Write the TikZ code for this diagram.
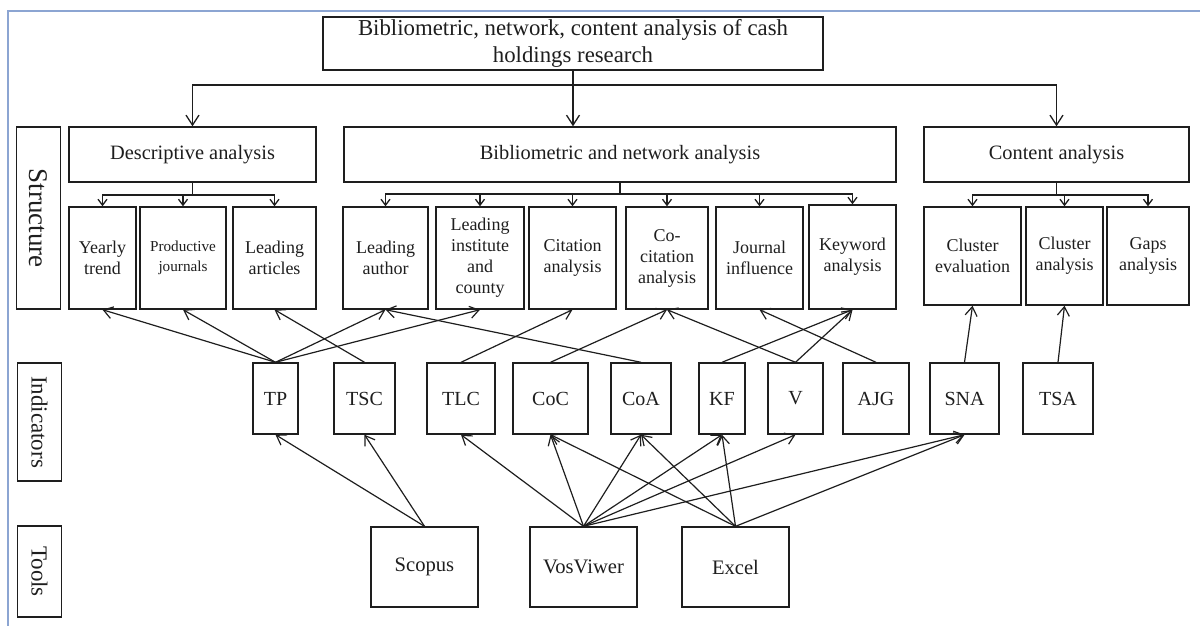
\documentclass[tikz,border=0pt]{standalone}
\usepackage{fontspec}
\setmainfont{Liberation Serif}
\usetikzlibrary{arrows.meta}
\definecolor{framecol}{RGB}{140,165,210}
\definecolor{ink}{RGB}{30,30,30}
\begin{document}
\begin{tikzpicture}[x=0.5pt,y=-0.5pt,
  box/.style={draw=ink, line width=0.7pt, inner sep=0pt, align=center, text=ink},
  rowtwo/.style={box, minimum height=27.5pt, font=\fontsize{10.2}{12}\selectfont},
  rowthree/.style={box, minimum height=51pt, font=\fontsize{9}{10.5}\selectfont},
  ind/.style={box, minimum height=35.5pt, font=\fontsize{10}{12}\selectfont},
  tool/.style={box, minimum height=40pt, minimum width=53.5pt, font=\fontsize{10.3}{12}\selectfont},
  lab/.style={box, rotate=-90, minimum height=22pt, font=\fontsize{11.5}{13}\selectfont},
  bigarr/.style={draw=ink, line width=0.65pt, -{Straight Barb[length=5pt,width=6.5pt]}},
  smallarr/.style={draw=ink, line width=0.65pt, -{Straight Barb[length=3pt,width=4.5pt]}},
  conn/.style={draw=ink, line width=0.6pt, -{Straight Barb[length=4.5pt,width=6pt]}},
  plain/.style={draw=ink, line width=0.65pt}
]
\useasboundingbox (0,0) rectangle (1200,626);
\draw[framecol, line width=1pt] (8,626) -- (8,11) -- (1200,11);

% title
\node[box, minimum width=250pt, minimum height=26.5pt, font=\fontsize{11.4}{13.5}\selectfont] (title) at (573,43.5)
  {Bibliometric, network, content analysis of cash\\holdings research};

% row 2
\node[rowtwo, minimum width=123.5pt] (desc) at (192.5,154.5) {Descriptive analysis};
\node[rowtwo, minimum width=276pt] (bib) at (620,154.5) {Bibliometric and network analysis};
\node[rowtwo, minimum width=132.5pt] (cont) at (1056.5,154.5) {Content analysis};

% row 3
\node[rowthree, minimum width=33.5pt] (yt) at (102.5,258) {Yearly\\trend};
\node[rowthree, minimum width=43pt, font=\fontsize{7.6}{10}\selectfont] (pj) at (183,258) {Productive\\journals};
\node[rowthree, minimum width=41.5pt] (la) at (274.5,258) {Leading\\articles};
\node[rowthree, minimum width=42.5pt] (lau) at (385.5,258) {Leading\\author};
\node[rowthree, minimum width=44pt] (lic) at (480,258) {Leading\\institute\\and\\county};
\node[rowthree, minimum width=43.5pt] (ca) at (572.5,258) {Citation\\analysis};
\node[rowthree, minimum width=41pt] (cc) at (667,258) {Co-\\citation\\analysis};
\node[rowthree, minimum width=43.5pt] (ji) at (759.5,258) {Journal\\influence};
\node[rowthree, minimum width=43.5pt, minimum height=52pt] (ka) at (852.5,257) {Keyword\\analysis};
\node[rowthree, minimum width=48.5pt, minimum height=49pt] (ce) at (972.5,256) {Cluster\\evaluation};
\node[rowthree, minimum width=38.5pt, minimum height=49pt] (cla) at (1064.5,256) {Cluster\\analysis};
\node[rowthree, minimum width=41pt, minimum height=49pt] (ga) at (1148,256) {Gaps\\analysis};

% side labels
\node[lab, minimum width=91pt, font=\fontsize{13.5}{15}\selectfont] (lstr) at (38.5,218) {Structure};
\node[lab, minimum width=59pt] (lind) at (39.5,422) {Indicators};
\node[lab, minimum width=45.5pt] (ltool) at (39.5,571.5) {Tools};

% indicators
\node[ind, minimum width=22.5pt] (tp) at (275.5,398.5) {TP};
\node[ind, minimum width=30.5pt] (tsc) at (364.5,398.5) {TSC};
\node[ind, minimum width=34pt] (tlc) at (461,398.5) {TLC};
\node[ind, minimum width=37.5pt] (coc) at (550.5,398.5) {CoC};
\node[ind, minimum width=30pt] (coa) at (641,398.5) {CoA};
\node[ind, minimum width=23pt] (kf) at (722,398.5) {KF};
\node[ind, minimum width=27.5pt] (v) at (795.5,398.5) {V};
\node[ind, minimum width=33pt] (ajg) at (876,398.5) {AJG};
\node[ind, minimum width=34.5pt] (sna) at (964.5,398.5) {SNA};
\node[ind, minimum width=35pt] (tsa) at (1058,398.5) {TSA};

% tools
\node[tool] (scopus) at (424.5,567) {Scopus};
\node[tool] (vos) at (583.5,567) {VosViwer};
\node[tool] (excel) at (735.5,567) {Excel};

% title connectors
\coordinate (hb) at (573,85);
\draw[bigarr] (title.south) -- (title.south |- bib.north);
\draw[bigarr] (hb) -| (desc.north);
\draw[bigarr] (hb) -| (cont.north);

% descriptive bus
\coordinate (db) at (192.5,195);
\draw[plain] (desc.south) -- (db);
\draw[smallarr] (db) -| (yt.north);
\draw[smallarr] (db) -| (la.north);
\draw[smallarr] (pj.north |- db) -- (pj.north);

% bibliometric bus
\coordinate (bb) at (620,194);
\draw[plain] (bib.south) -- (bb);
\draw[smallarr] (bb) -| (lau.north);
\draw[smallarr] (bb) -| (ka.north);
\draw[smallarr] (lic.north |- bb) -- (lic.north);
\draw[smallarr] (ca.north |- bb) -- (ca.north);
\draw[smallarr] (cc.north |- bb) -- (cc.north);
\draw[smallarr] (ji.north |- bb) -- (ji.north);

% content bus
\coordinate (cb) at (1056.5,195);
\draw[plain] (cont.south) -- (cb);
\draw[smallarr] (cb) -| (ce.north);
\draw[smallarr] (cb) -| (ga.north);
\draw[smallarr] (cla.north |- cb) -- (cla.north);

% indicators -> structure
\draw[conn] (tp.north) -- (yt.south);
\draw[conn] (tp.north) -- (pj.south);
\draw[conn] (tp.north) -- (lau.south);
\draw[conn] (tp.north) -- (lic.south);
\draw[conn] (tsc.north) -- (la.south);
\draw[conn] (tlc.north) -- (ca.south);
\draw[conn] (coc.north) -- (cc.south);
\draw[conn] (coa.north) -- (lau.south);
\draw[conn] (v.north) -- (cc.south);
\draw[conn] (v.north) -- (ka.south);
\draw[conn] (kf.north) -- (ka.south);
\draw[conn] (ajg.north) -- (ji.south);
\draw[conn] (sna.north) -- (ce.south);
\draw[conn] (tsa.north) -- (cla.south);

% tools -> indicators
\draw[conn] (scopus.north) -- (tp.south);
\draw[conn] (scopus.north) -- (tsc.south);
\draw[conn] (vos.north) -- (tlc.south);
\draw[conn] (vos.north) -- (coc.south);
\draw[conn] (vos.north) -- (coa.south);
\draw[conn] (vos.north) -- (kf.south);
\draw[conn] (vos.north) -- (v.south);
\draw[conn] (vos.north) -- (sna.south);
\draw[conn] (excel.north) -- (coc.south);
\draw[conn] (excel.north) -- (coa.south);
\draw[conn] (excel.north) -- (kf.south);
\draw[conn] (excel.north) -- (sna.south);
\end{tikzpicture}
\end{document}
